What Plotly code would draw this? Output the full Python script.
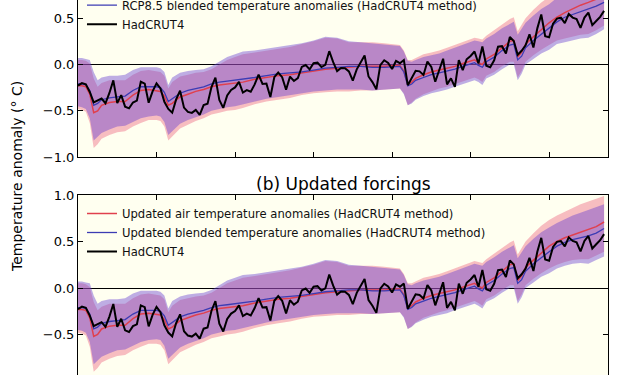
import plotly.graph_objects as go

# ---------------- data ----------------
obs_years = list(range(1880, 2015))
hadcrut4 = [
    -0.227, -0.200, -0.213, -0.296, -0.409, -0.389, -0.367, -0.418, -0.307, -0.171,
    -0.416, -0.330, -0.455, -0.473, -0.410, -0.390, -0.186, -0.206, -0.412, -0.289,
    -0.203, -0.259, -0.402, -0.479, -0.520, -0.377, -0.283, -0.465, -0.511, -0.522,
    -0.490, -0.544, -0.437, -0.424, -0.244, -0.141, -0.383, -0.468, -0.333, -0.275,
    -0.247, -0.187, -0.302, -0.276, -0.294, -0.215, -0.108, -0.210, -0.206, -0.350,
    -0.137, -0.087, -0.137, -0.273, -0.131, -0.178, -0.147, -0.026, -0.006, -0.052,
    0.014, 0.020, -0.027, -0.004, 0.144, 0.025, -0.071, -0.038, -0.039, -0.074,
    -0.173, -0.052, 0.028, 0.097, -0.129, -0.190, -0.267, -0.007, 0.046, 0.017,
    -0.049, 0.038, 0.014, 0.048, -0.223, -0.140, -0.068, -0.074, -0.113, 0.032,
    -0.027, -0.186, -0.065, 0.062, -0.214, -0.149, -0.241, 0.047, -0.062, 0.057,
    0.092, 0.140, 0.011, 0.194, -0.014, -0.030, 0.045, 0.192, 0.198, 0.118,
    0.296, 0.254, 0.105, 0.148, 0.208, 0.325, 0.183, 0.390, 0.539, 0.306,
    0.294, 0.441, 0.496, 0.505, 0.447, 0.545, 0.506, 0.491, 0.395, 0.506,
    0.560, 0.425, 0.470, 0.514, 0.579,
]

# model years: shared historical part + recent tail
hist_years = [1880, 1881, 1882, 1883, 1884, 1885, 1886, 1888, 1890, 1892, 1894, 1896,
              1898, 1900, 1901, 1902, 1903, 1904, 1906, 1908, 1910, 1912, 1914, 1916,
              1918, 1920, 1922, 1925, 1928, 1931, 1934, 1937, 1940, 1943, 1946, 1949,
              1952, 1955, 1958, 1961, 1962, 1963, 1964, 1965, 1966, 1968, 1970, 1972,
              1974, 1976, 1978, 1980, 1981, 1982, 1983, 1984, 1986, 1988, 1990, 1991,
              1992, 1993, 1994, 1996, 1998, 2000]
tail_years = [2002, 2004, 2006, 2008, 2010, 2012, 2014]

hist_blend = [-0.21, -0.21, -0.22, -0.28, -0.44, -0.42, -0.38, -0.36, -0.35, -0.34, -0.28, -0.24,
              -0.24, -0.24, -0.25, -0.30, -0.40, -0.37, -0.31, -0.28, -0.26, -0.24, -0.21, -0.19,
              -0.18, -0.17, -0.16, -0.14, -0.12, -0.10, -0.09, -0.08, -0.06, -0.04, -0.03, -0.02,
              -0.02, -0.03, -0.03, -0.02, -0.02, -0.08, -0.23, -0.21, -0.17, -0.14, -0.11, -0.09,
              -0.07, -0.05, -0.02, 0.01, 0.02, -0.01, -0.03, 0.03, 0.08, 0.15, 0.21, 0.22,
              0.05, 0.09, 0.18, 0.26, 0.33, 0.39]
hist_air = [-0.23, -0.23, -0.24, -0.32, -0.52, -0.50, -0.44, -0.41, -0.40, -0.40, -0.33, -0.28,
            -0.27, -0.28, -0.29, -0.34, -0.44, -0.42, -0.35, -0.32, -0.29, -0.27, -0.24, -0.22,
            -0.21, -0.20, -0.19, -0.16, -0.14, -0.12, -0.11, -0.09, -0.07, -0.05, -0.04, -0.03,
            -0.02, -0.02, -0.02, -0.01, -0.01, -0.07, -0.22, -0.19, -0.15, -0.11, -0.08, -0.06,
            -0.04, -0.02, 0.01, 0.04, 0.05, 0.02, 0.00, 0.06, 0.11, 0.18, 0.25, 0.26,
            0.08, 0.13, 0.22, 0.30, 0.38, 0.45]
hist_blend_hi = [0.07, 0.07, 0.06, 0.05, -0.08, -0.17, -0.14, -0.12, -0.12, -0.11, -0.06, -0.03,
                 -0.03, -0.03, -0.04, -0.08, -0.22, -0.14, -0.09, -0.07, -0.06, -0.05, -0.02, 0.03,
                 0.08, 0.11, 0.14, 0.15, 0.17, 0.19, 0.21, 0.23, 0.26, 0.30, 0.29, 0.25,
                 0.24, 0.23, 0.22, 0.21, 0.20, 0.14, 0.04, 0.03, 0.05, 0.08, 0.10, 0.12,
                 0.15, 0.18, 0.21, 0.24, 0.26, 0.25, 0.24, 0.28, 0.33, 0.39, 0.44, 0.46,
                 0.32, 0.38, 0.45, 0.53, 0.60, 0.65]
hist_blend_lo = [-0.45, -0.46, -0.48, -0.58, -0.82, -0.78, -0.74, -0.70, -0.67, -0.66, -0.62, -0.58,
                 -0.56, -0.55, -0.56, -0.62, -0.76, -0.72, -0.64, -0.60, -0.57, -0.54, -0.50, -0.48,
                 -0.46, -0.45, -0.43, -0.40, -0.37, -0.35, -0.33, -0.31, -0.29, -0.28, -0.27, -0.27,
                 -0.27, -0.28, -0.27, -0.26, -0.26, -0.32, -0.44, -0.42, -0.38, -0.34, -0.31, -0.29,
                 -0.27, -0.24, -0.21, -0.18, -0.17, -0.19, -0.22, -0.15, -0.11, -0.05, 0.00, 0.00,
                 -0.17, -0.10, 0.00, 0.06, 0.12, 0.16]
hist_air_hi = [0.05, 0.05, 0.04, 0.01, -0.15, -0.24, -0.20, -0.17, -0.17, -0.17, -0.11, -0.07,
               -0.06, -0.07, -0.08, -0.12, -0.26, -0.19, -0.13, -0.11, -0.09, -0.08, -0.05, 0.00,
               0.05, 0.08, 0.11, 0.13, 0.15, 0.17, 0.19, 0.22, 0.25, 0.29, 0.28, 0.24,
               0.24, 0.24, 0.23, 0.22, 0.21, 0.15, 0.05, 0.05, 0.07, 0.11, 0.13, 0.15,
               0.18, 0.21, 0.24, 0.27, 0.29, 0.28, 0.27, 0.31, 0.37, 0.43, 0.49, 0.51,
               0.36, 0.43, 0.50, 0.59, 0.67, 0.73]
hist_air_lo = [-0.48, -0.49, -0.51, -0.63, -0.90, -0.86, -0.80, -0.76, -0.73, -0.72, -0.67, -0.63,
               -0.60, -0.60, -0.61, -0.67, -0.82, -0.78, -0.69, -0.65, -0.61, -0.58, -0.54, -0.52,
               -0.50, -0.49, -0.47, -0.43, -0.40, -0.38, -0.36, -0.33, -0.31, -0.30, -0.29, -0.29,
               -0.28, -0.28, -0.27, -0.26, -0.26, -0.31, -0.44, -0.41, -0.37, -0.32, -0.29, -0.26,
               -0.24, -0.21, -0.18, -0.15, -0.14, -0.16, -0.19, -0.12, -0.08, -0.02, 0.03, 0.03,
               -0.14, -0.07, 0.03, 0.10, 0.16, 0.21]

# (a) RCP8.5 tail
rcp_blend_tail = [0.46, 0.51, 0.54, 0.57, 0.60, 0.63, 0.67]
rcp_air_tail = [0.51, 0.56, 0.60, 0.64, 0.67, 0.70, 0.74]
rcp_blend_hi_tail = [0.72, 0.77, 0.81, 0.85, 0.88, 0.91, 0.94]
rcp_blend_lo_tail = [0.22, 0.24, 0.26, 0.28, 0.29, 0.33, 0.38]
rcp_air_hi_tail = [0.80, 0.85, 0.89, 0.93, 0.97, 1.00, 1.03]
rcp_air_lo_tail = [0.26, 0.28, 0.30, 0.32, 0.33, 0.37, 0.42]

# (b) Updated forcings tail
upd_blend_tail = [0.45, 0.49, 0.52, 0.54, 0.56, 0.59, 0.64]
upd_air_tail = [0.50, 0.54, 0.57, 0.60, 0.63, 0.66, 0.71]
upd_blend_hi_tail = [0.70, 0.74, 0.78, 0.81, 0.84, 0.87, 0.90]
upd_blend_lo_tail = [0.21, 0.24, 0.26, 0.27, 0.26, 0.30, 0.34]
upd_air_hi_tail = [0.78, 0.82, 0.86, 0.90, 0.93, 0.96, 0.99]
upd_air_lo_tail = [0.25, 0.28, 0.30, 0.31, 0.31, 0.35, 0.39]

panel_b_title = "(b) Updated forcings"
y_title = "Temperature anomaly (° C)"
y_ticks = [-1.0, -0.5, 0.0, 0.5, 1.0]
x_ticks = [1880, 1900, 1920, 1940, 1960, 1980, 2000]

# ---------------- style ----------------
FONT = "DejaVu Sans"
RED = "#e0404e"
BLUE = "#3c3cb4"
PINK_FILL = "rgba(236,90,120,0.40)"
BLUE_FILL = "rgba(100,60,210,0.42)"
BG = "#fffff0"

model_years = hist_years + tail_years

fig = go.Figure()


def add_panel(xa, ya, air, blend, air_lo, air_hi, bl_lo, bl_hi, names, legend, show_air):
    fig.add_trace(go.Scatter(x=model_years, y=air_lo, xaxis=xa, yaxis=ya, mode="lines",
                             line=dict(width=0, color=PINK_FILL), showlegend=False,
                             hoverinfo="skip"))
    fig.add_trace(go.Scatter(x=model_years, y=air_hi, xaxis=xa, yaxis=ya, mode="lines",
                             line=dict(width=0, color=PINK_FILL), fill="tonexty",
                             fillcolor=PINK_FILL, showlegend=False, hoverinfo="skip"))
    fig.add_trace(go.Scatter(x=model_years, y=bl_lo, xaxis=xa, yaxis=ya, mode="lines",
                             line=dict(width=0, color=BLUE_FILL), showlegend=False,
                             hoverinfo="skip"))
    fig.add_trace(go.Scatter(x=model_years, y=bl_hi, xaxis=xa, yaxis=ya, mode="lines",
                             line=dict(width=0, color=BLUE_FILL), fill="tonexty",
                             fillcolor=BLUE_FILL, showlegend=False, hoverinfo="skip"))
    fig.add_trace(go.Scatter(x=model_years, y=air, xaxis=xa, yaxis=ya, mode="lines",
                             line=dict(width=1.5, color=RED), name=names[0],
                             showlegend=show_air, legend=legend))
    fig.add_trace(go.Scatter(x=model_years, y=blend, xaxis=xa, yaxis=ya, mode="lines",
                             line=dict(width=1.3, color=BLUE), name=names[1],
                             legend=legend))
    fig.add_trace(go.Scatter(x=obs_years, y=hadcrut4, xaxis=xa, yaxis=ya, mode="lines",
                             line=dict(width=2, color="black"), name="HadCRUT4",
                             legend=legend))


add_panel("x", "y",
          hist_air + rcp_air_tail, hist_blend + rcp_blend_tail,
          hist_air_lo + rcp_air_lo_tail, hist_air_hi + rcp_air_hi_tail,
          hist_blend_lo + rcp_blend_lo_tail, hist_blend_hi + rcp_blend_hi_tail,
          ["RCP8.5 air temperature anomalies (HadCRUT4 method)",
           "RCP8.5 blended temperature anomalies (HadCRUT4 method)"], "legend", False)
add_panel("x2", "y2",
          hist_air + upd_air_tail, hist_blend + upd_blend_tail,
          hist_air_lo + upd_air_lo_tail, hist_air_hi + upd_air_hi_tail,
          hist_blend_lo + upd_blend_lo_tail, hist_blend_hi + upd_blend_hi_tail,
          ["Updated air temperature anomalies (HadCRUT4 method)",
           "Updated blended temperature anomalies (HadCRUT4 method)"], "legend2", True)

W, H = 633, 375
ML, MR = 78, 25
top_bottom_px = 157.2
bot_top_px = 195.0

xcommon = dict(range=[1880, 2015], tickvals=x_ticks, ticks="inside", ticklen=5,
               tickwidth=1, tickcolor="black", showline=True, linecolor="black",
               linewidth=1, showgrid=False, zeroline=False, showticklabels=False,
               mirror=False)
ycommon = dict(tickvals=y_ticks, tickformat=".1f", ticks="inside",
               ticklen=5, tickwidth=1, tickcolor="black", showline=True,
               linecolor="black", linewidth=1, mirror="ticks", showgrid=False,
               zeroline=True, zerolinecolor="black", zerolinewidth=1,
               tickfont=dict(family=FONT, size=13, color="black"))

legend_font = dict(family=FONT, size=11.6, color="#111")

fig.update_layout(
    width=W, height=H,
    margin=dict(l=ML, r=MR, t=0, b=0, autoexpand=False),
    paper_bgcolor="white", plot_bgcolor=BG,
    font=dict(family=FONT, color="black"),
    xaxis=dict(domain=[0, 1], anchor="y", side="bottom", **xcommon),
    yaxis=dict(domain=[(H - top_bottom_px) / H, 1], anchor="x", range=[-1.0, 0.696],
               **ycommon),
    xaxis2=dict(domain=[0, 1], anchor="y2", side="top", **xcommon),
    yaxis2=dict(domain=[0, (H - bot_top_px) / H], anchor="x2", range=[-0.935, 1.0],
                **ycommon),
    legend=dict(x=0.0075, y=1.025, xanchor="left", yanchor="top", traceorder="normal",
                bgcolor="rgba(0,0,0,0)", borderwidth=0, font=legend_font),
    legend2=dict(x=0.0075, y=(H - 199) / H, xanchor="left", yanchor="top",
                 traceorder="normal", bgcolor="rgba(0,0,0,0)", borderwidth=0,
                 font=legend_font),
    showlegend=True,
    annotations=[
        dict(text=panel_b_title, xref="paper", yref="paper", x=0.5, y=(H - 184) / H,
             xanchor="center", yanchor="middle", showarrow=False,
             font=dict(family=FONT, size=17, color="black")),
        dict(text=y_title, xref="paper", yref="paper", x=(17 - ML) / (W - ML - MR),
             y=(H - 177) / H, xanchor="center", yanchor="middle", textangle=-90,
             showarrow=False, font=dict(family=FONT, size=14, color="black")),
    ],
)

fig.write_html("out.html", config={"displayModeBar": False},
               post_script="document.body.style.margin='0';document.body.style.overflow='hidden';")
